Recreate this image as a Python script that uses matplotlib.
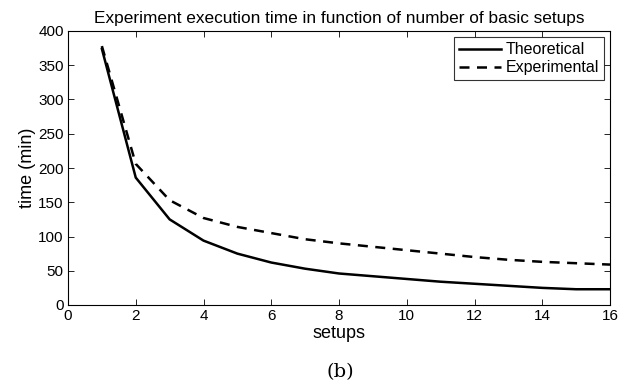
import matplotlib
matplotlib.use("Agg")
import matplotlib.pyplot as plt

setups = list(range(1, 17))
theoretical = [374, 186, 125, 94, 75, 62, 53, 46, 42, 38, 34, 31, 28, 25, 23, 23]
experimental = [378, 206, 153, 127, 114, 105, 96, 90, 85, 80, 75, 70, 66, 63, 61, 59]

plt.rcParams['font.family'] = ['Liberation Sans', 'DejaVu Sans']
fig = plt.figure(figsize=(6.24, 3.9), dpi=100)
ax = fig.add_axes([68/624, 1 - 305/390, (610-68)/624, (305-31)/390])
ax.plot(setups, theoretical, 'k-', lw=1.8, label='Theoretical')
ax.plot(setups, experimental, 'k--', lw=1.8, dashes=(4, 3), label='Experimental')
ax.set_xlim(0, 16)
ax.set_ylim(0, 400)
ax.set_xticks(range(0, 17, 2))
ax.set_yticks(range(0, 401, 50))
ax.tick_params(direction='in', top=True, right=True, labelsize=11, length=4, width=0.6, pad=3)
for s in ax.spines.values():
    s.set_linewidth(0.8)
ax.set_xlabel('setups', fontsize=13, labelpad=1)
ax.set_ylabel('time (min)', fontsize=13, labelpad=2)
ax.set_title('Experiment execution time in function of number of basic setups', fontsize=12.4, pad=6)
leg = ax.legend(loc='upper right', fontsize=11.5, frameon=True, fancybox=False, edgecolor='black',
                handlelength=2.6, borderaxespad=0.4, borderpad=0.3, labelspacing=0.2, handletextpad=0.3)
leg.get_frame().set_linewidth(0.8)
fig.text(340/624, 1 - 372/390, '(b)', fontsize=14, family='DejaVu Serif', ha='center', va='center')
fig.savefig('out.png', dpi=100)
